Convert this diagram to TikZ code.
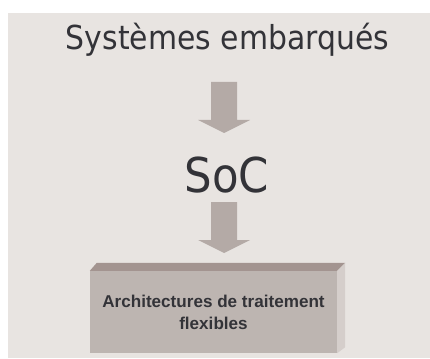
\documentclass[tikz,border=0pt]{standalone}
\usepackage{fontspec}
\setmainfont{DejaVu Sans}
\newfontfamily\titlefont[FakeStretch=0.905]{DejaVu Sans}
\newfontfamily\boxfont{Liberation Sans}
\definecolor{bg}{HTML}{E8E4E1}
\definecolor{arrowc}{HTML}{B4AAA6}
\definecolor{frontc}{HTML}{BDB5B1}
\definecolor{topc}{HTML}{A39490}
\definecolor{sidec}{HTML}{D5CECB}
\definecolor{txt}{HTML}{333338}
\tikzset{
  bigtext/.style={anchor=base, inner sep=0pt, text=txt},
  blockarrow/.style={fill=arrowc},
}
\begin{document}
\begin{tikzpicture}[x=1pt,y=-1pt]
\useasboundingbox (0,0) rectangle (430,358);
\fill[bg] (8,13) rectangle (430,358);
\node[bigtext, font=\titlefont\fontsize{33}{33}\selectfont] (title) at (227.5,50) {Systèmes embarqués};
\node[bigtext, font=\titlefont\fontsize{48}{48}\selectfont] (soc) at (227,192) {SoC};
% block arrows
\coordinate (a1) at (224,82);
\coordinate (a2) at (224,202);
\foreach \c in {a1,a2}{
  \fill[blockarrow] (\c) ++(-13,0) -- ++(26,0) -- ++(0,38) -- ++(13,0) -- ++(-26,13) -- ++(-26,-13) -- ++(13,0) -- cycle;
}
% 3D box
\node[fill=frontc, minimum width=247pt, minimum height=82pt, inner sep=0pt, align=center, text=txt,
      font=\boxfont\bfseries\fontsize{17.1}{22}\selectfont] (box) at (213.5,312) {Architectures de traitement\\flexibles};
\fill[topc] (box.north west) -- ++(7,-8) -- ([shift={(8,-8)}]box.north east) -- (box.north east) -- cycle;
\fill[sidec] (box.north east) -- ++(8,-8) -- ([shift={(8,-6)}]box.south east) -- (box.south east) -- cycle;
\end{tikzpicture}
\end{document}
